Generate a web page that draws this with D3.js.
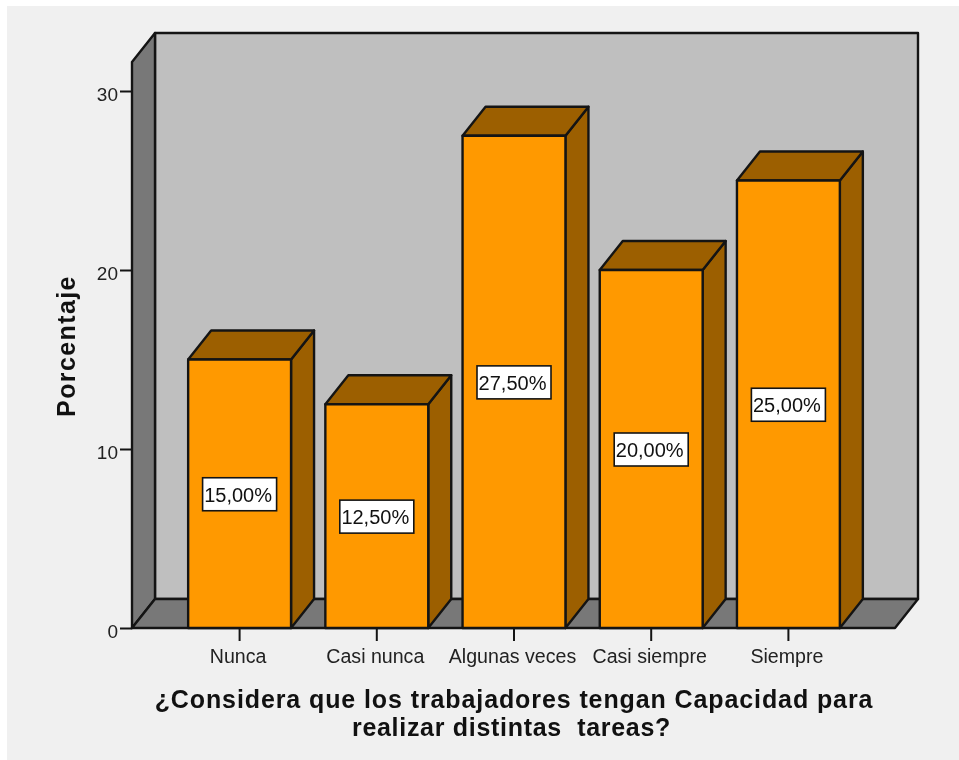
<!DOCTYPE html>
<html><head><meta charset="utf-8">
<script src="https://cdn.jsdelivr.net/npm/d3@7"></script>
<style>html,body{margin:0;padding:0;background:#fff}svg{display:block;filter:blur(0.45px)}</style>
</head><body><div id="c"></div>
<script>
const categories = ["Nunca","Casi nunca","Algunas veces","Casi siempre","Siempre"];
const percentages = [15, 12.5, 27.5, 20, 25];
const labels = ["15,00%","12,50%","27,50%","20,00%","25,00%"];
const yTicks = [0,10,20,30];
const yTitle = "Porcentaje";
const xTitleLines = ["¿Considera que los trabajadores tengan Capacidad para","realizar distintas  tareas?"];

const W=959,H=760,dx=23,dy=29;
const svg=d3.select("#c").append("svg").attr("width",W).attr("height",H);
svg.append("rect").attr("x",7).attr("y",6).attr("width",W-7).attr("height",H-6).attr("fill","#f0f0f0");

const y=d3.scaleLinear().domain([0,30]).range([628,91]);
const x=d3.scaleBand().domain(categories).range([171,857]).paddingInner(0.25).paddingOuter(0.125);
const L=132,R=895,B=y(0),T=62;
const ink="#141414";
const FONT="'Liberation Sans',Arial,sans-serif";
const poly=(pts,fill)=>svg.append("polygon").attr("points",pts.map(p=>p.join(",")).join(" "))
  .attr("fill",fill).attr("stroke",ink).attr("stroke-width",2.4).attr("stroke-linejoin","round");
// walls
poly([[L+dx,T-dy],[R+dx,T-dy],[R+dx,B-dy],[L+dx,B-dy]],"#bfbfbf");
poly([[L,T],[L+dx,T-dy],[L+dx,B-dy],[L,B]],"#787878");
poly([[L,B],[L+dx,B-dy],[R+dx,B-dy],[R,B]],"#787878");
// bars
categories.forEach((c,i)=>{
  const x0=x(c),x1=x0+x.bandwidth(),yt=y(percentages[i]);
  poly([[x1,yt],[x1+dx,yt-dy],[x1+dx,B-dy],[x1,B]],"#9c5f00");
  poly([[x0,yt],[x0+dx,yt-dy],[x1+dx,yt-dy],[x1,yt]],"#9c5f00");
  poly([[x0,yt],[x1,yt],[x1,B],[x0,B]],"#ff9900");
});
// axes
const yAxis=d3.axisLeft(y).tickValues(yTicks).tickSize(12).tickPadding(2).tickFormat(d3.format("d"));
const gy=svg.append("g").attr("transform",`translate(${L},0)`).call(yAxis);
gy.select(".domain").remove();
gy.selectAll("line").attr("stroke",ink).attr("stroke-width",2);
gy.selectAll("text").attr("font-family",FONT).attr("font-size",19).attr("fill","#222").attr("dy","0.5em");
const xAxis=d3.axisBottom(x).tickSize(13).tickPadding(8);
const gx=svg.append("g").attr("transform",`translate(0,${B})`).call(xAxis);
gx.select(".domain").remove();
gx.selectAll("line").attr("stroke",ink).attr("stroke-width",2);
gx.selectAll("text").attr("font-family",FONT).attr("font-size",19.6).attr("fill","#222").attr("dx",-1.5);
// value labels
categories.forEach((c,i)=>{
  const cx=x(c)+x.bandwidth()/2, cy=y(percentages[i]/2);
  svg.append("rect").attr("x",cx-37).attr("y",cy-16).attr("width",74).attr("height",33)
    .attr("fill","#fff").attr("stroke",ink).attr("stroke-width",1.6);
  svg.append("text").attr("x",cx-1.5).attr("y",cy+8).attr("text-anchor","middle").attr("font-family",FONT)
    .attr("font-size",20).attr("fill","#111").text(labels[i]);
});
// titles
const titleG=svg.append("g").attr("font-family",FONT).attr("font-weight","bold").attr("fill","#111");
titleG.append("text").attr("transform","translate(75,346) rotate(-90)").attr("text-anchor","middle")
  .attr("font-size",25).attr("letter-spacing",1.4).text(yTitle);
xTitleLines.forEach((t,i)=>titleG.append("text").attr("x",i?511.5:514).attr("y",708+i*28).attr("text-anchor","middle")
  .attr("font-size",25).attr("letter-spacing",i?0.7:0.9).style("white-space","pre").text(t));
</script></body></html>
